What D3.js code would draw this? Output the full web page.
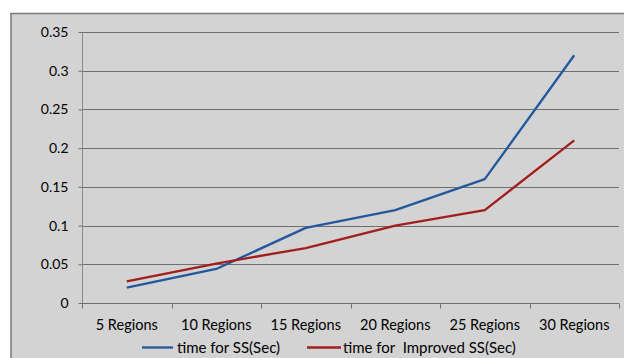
<!DOCTYPE html>
<html><head><meta charset="utf-8">
<script src="https://cdn.jsdelivr.net/npm/d3@7"></script>
<style>html,body{margin:0;padding:0;background:#fff;}svg{display:block;}</style>
</head><body>
<script>
const categories = ["5 Regions","10 Regions","15 Regions","20 Regions","25 Regions","30 Regions"];
const timeSS = [0.02, 0.044, 0.097, 0.12, 0.16, 0.32];
const timeImprovedSS = [0.028, 0.051, 0.071, 0.1, 0.12, 0.21];
const yTicks = [0, 0.05, 0.1, 0.15, 0.2, 0.25, 0.3, 0.35];
const seriesNames = ["time for SS(Sec)", "time for  Improved SS(Sec)"];
const colors = ["#23589f", "#a21e1e"];

const W = 624, H = 358;
const svg = d3.select("body").append("svg").attr("width", W).attr("height", H);
const font = "Lato, 'Open Sans', sans-serif";

// frame
svg.append("rect").attr("x", 11).attr("y", 13.5).attr("width", 640).attr("height", 380)
  .attr("fill", "#d3d3d3").attr("stroke", "#7a7a7a").attr("stroke-width", 1.5);

const x = d3.scaleBand().domain(categories).range([82, 619]);
const y = d3.scaleLinear().domain([0, 0.35]).range([303, 32]);

// gridlines
svg.append("g").selectAll("line").data(yTicks.filter(d => d > 0)).join("line")
  .attr("x1", 82).attr("x2", 619).attr("y1", d => Math.round(y(d)) + 0.5).attr("y2", d => Math.round(y(d)) + 0.5)
  .attr("stroke", "#6f6f6f").attr("stroke-width", 1);

// y axis
const ya = svg.append("g").attr("transform", "translate(82.5,0)")
  .call(d3.axisLeft(y).tickValues(yTicks).tickSize(4).tickPadding(10).tickFormat(d => d3.format("")(+d.toFixed(2))));
ya.select(".domain").attr("stroke", "#8a8a8a").attr("d", `M0,${y(0.35)}V${y(0)}`);
ya.selectAll(".tick line").attr("stroke", "#6f6f6f");
ya.selectAll("text").attr("font-family", font).attr("font-size", 14).attr("fill", "#000");

// x axis
const xa = svg.append("g").attr("transform", "translate(0,303.5)")
  .call(d3.axisBottom(x).tickSize(0).tickPadding(16));
xa.select(".domain").attr("stroke", "#6f6f6f").attr("d", "M82,0H619");
xa.selectAll("text").attr("font-family", font).attr("font-size", 14.5).attr("fill", "#000");
// band boundary ticks
const bounds = categories.map(c => x(c)).concat([x.range()[1]]);
xa.append("g").selectAll("line").data(bounds).join("line")
  .attr("x1", d => Math.round(d) + 0.5).attr("x2", d => Math.round(d) + 0.5).attr("y1", 0).attr("y2", 5)
  .attr("stroke", "#6f6f6f");

// lines
const series = [timeSS, timeImprovedSS];
const line = d3.line().x((d, i) => x(categories[i]) + x.bandwidth() / 2).y(d => y(d));
svg.append("g").selectAll("path").data(series).join("path")
  .attr("d", d => line(d)).attr("fill", "none")
  .attr("stroke", (d, i) => colors[i]).attr("stroke-width", 2.3).attr("stroke-linejoin", "round");

// legend
const leg = [{x1: 142, x2: 173, tx: 177}, {x1: 307, x2: 341, tx: 343}];
const lg = svg.append("g");
seriesNames.forEach((n, i) => {
  lg.append("line").attr("x1", leg[i].x1).attr("x2", leg[i].x2).attr("y1", 347.5).attr("y2", 347.5)
    .attr("stroke", colors[i]).attr("stroke-width", 2.3);
  lg.append("text").attr("x", leg[i].tx).attr("y", 352.5).attr("font-family", font).attr("font-size", 15)
    .attr("fill", "#000").attr("xml:space", "preserve").style("white-space", "pre").text(n);
});
</script>
</body></html>
